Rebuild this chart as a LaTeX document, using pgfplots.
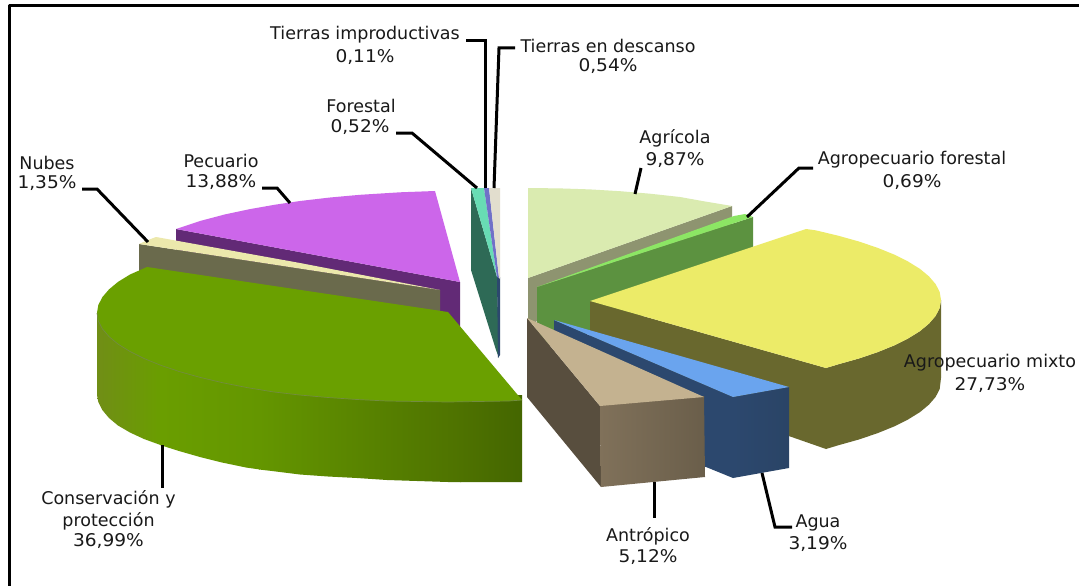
\documentclass[border=0pt]{standalone}
\usepackage{pgfplots}
\pgfplotsset{compat=1.18}
\usepackage{fontspec}
\setmainfont{DejaVu Sans}
\definecolor{agrT}{RGB}{218,235,176}
\definecolor{agrS}{RGB}{142,148,112}
\definecolor{forT}{RGB}{140,230,100}
\definecolor{forS}{RGB}{92,146,64}
\definecolor{mixT}{RGB}{236,235,104}
\definecolor{mixS}{RGB}{105,104,46}
\definecolor{aguT}{RGB}{106,164,238}
\definecolor{aguS}{RGB}{44,72,110}
\definecolor{aguR}{RGB}{42,68,102}
\definecolor{antT}{RGB}{196,178,144}
\definecolor{antD}{RGB}{88,78,62}
\definecolor{antL}{RGB}{128,113,90}
\definecolor{antR}{RGB}{106,94,74}
\definecolor{conT}{RGB}{106,160,0}
\definecolor{conA}{RGB}{112,142,22}
\definecolor{conB}{RGB}{106,158,0}
\definecolor{conC}{RGB}{100,150,0}
\definecolor{conD}{RGB}{78,114,0}
\definecolor{conE}{RGB}{68,102,0}
\definecolor{nubT}{RGB}{236,232,172}
\definecolor{nubS}{RGB}{106,106,76}
\definecolor{pecT}{RGB}{204,102,234}
\definecolor{pecS}{RGB}{98,42,118}
\definecolor{fstT}{RGB}{104,220,180}
\definecolor{fstS}{RGB}{46,106,86}
\definecolor{impT}{RGB}{112,112,200}
\definecolor{desT}{RGB}{226,222,206}
\newcommand{\lab}[3]{\node[font=\fontsize{17.5}{20}\selectfont,text=black!90,inner sep=0pt,anchor=center] at (axis cs:#1,#2) {#3};}
\newcommand{\nlab}[3]{\node[font=\fontsize{17.5}{20}\selectfont,text=black!90,inner sep=0pt,anchor=center] at (axis cs:#1,#2) {\scalebox{1.06}[1]{#3}};}
\begin{document}
\begin{tikzpicture}
\begin{axis}[
  width=1079pt,height=586pt,scale only axis,
  xmin=0,xmax=1079,ymin=0,ymax=586,y dir=reverse,
  hide axis,clip=true,
  every axis plot/.append style={no markers,line join=round},
  poly/.style={draw=none,fill=#1},
  leader/.style={draw=black,line width=3pt,line join=miter},
]
% page extent
\addplot[draw=none,fill=white] coordinates {(0,0) (1079,0) (1079,586) (0,586)} --cycle;
% frame
\addplot[draw=black,line width=3.2pt] coordinates {(9.6,586) (9.6,5.5) (1079,5.5)};
% Pecuario
\addplot[poly=pecS] coordinates {(176,229) (460,282) (460,327) (176,270)} --cycle;
\addplot[poly=pecT] coordinates {(176,229) (200,221) (225,214.4) (250,209.1) (275,204.7) (300,201) (330,197.5) (360,194.8) (400,192.3) (435,191) (460,282)} --cycle;
% Nubes
\addplot[poly=nubS] coordinates {(139,244) (440,290) (440,312) (139,272)} --cycle;
\addplot[poly=nubT] coordinates {(139,244) (148,240) (156,237) (300,263) (440,290)} --cycle;
% Conservacion side, in four shaded strips
\addplot[draw=none,left color=conA,right color=conB] coordinates {(97,313) (97,395) (98.3,402) (102.3,410) (109,418) (118,425.5) (130,432.5) (144,439) (160.5,445) (161,445) (161,340) (130,320)} --cycle;
\addplot[draw=none,left color=conB,right color=conC] coordinates {(160,340) (160,445) (179,451) (200,457) (222,462.5) (246,467.5) (260,469.5) (260,380)} --cycle;
\addplot[draw=none,left color=conC,right color=conD] coordinates {(259,380) (259,469.5) (272,471) (300,474.5) (328,476.5) (357,478) (387,480) (417,481) (448,482) (461,482) (461,395)} --cycle;
\addplot[draw=none,left color=conD,right color=conE] coordinates {(460,395) (460,482) (478,482) (509,482) (522,482) (522,395)} --cycle;
% Conservacion top
\addplot[draw=none,fill=conT] coordinates {(97,313) (98.3,305.1) (102.3,297.2) (109,289.4) (118,281.9) (130,274.5) (147,267) (448,312) (522,400) (509,401) (478,401.5) (448,402) (417,401.5) (387,401) (357,399.5) (328,397.5) (299.6,395) (272.5,391.8) (246.6,387.5) (222.4,382.7) (199.8,377.3) (179.1,371.5) (160.5,365.2) (144,358.5) (130,351.5) (118,344.1) (109,336.6) (102.3,328.8) (98.3,320.9)} --cycle;
\addplot[draw=conE!75!white,line width=0.7pt] coordinates {(97,313) (98.3,320.9) (102.3,328.8) (109,336.6) (118,344.1) (130,351.5) (144,358.5) (160.5,365.2) (179.1,371.5) (199.8,377.3) (222.4,382.7) (246.6,387.5) (272.5,391.8) (299.6,395) (328,397.5) (357,399.5) (387,401) (417,401.5) (448,402) (478,401.5) (509,401) (522,400)};
% Forestal & tierras
\addplot[poly=fstS] coordinates {(471,188) (497,277) (499,358) (496,350) (471,270)} --cycle;
\addplot[poly=aguS] coordinates {(497,277) (500,277) (500,355) (498,358)} --cycle;
\addplot[poly=fstT] coordinates {(471,188) (484,188) (497,277)} --cycle;
\addplot[poly=impT] coordinates {(484,188) (489,188) (499,278) (497,277)} --cycle;
\addplot[poly=desT] coordinates {(489,188) (500,188) (500,279) (499,278)} --cycle;
% Agricola
\addplot[poly=agrS] coordinates {(528,278) (732,206) (732,240) (528,325)} --cycle;
\addplot[poly=agrT] coordinates {(528,188) (560,188.4) (590,189.4) (620,191.2) (650,193.7) (680,197) (705,201.5) (732,206) (528,278)} --cycle;
% Agropecuario forestal
\addplot[poly=forS] coordinates {(537,287) (753,217) (753,280) (537,350)} --cycle;
\addplot[poly=forT] coordinates {(537,287) (734,216) (745,214) (753,217)} --cycle;
% Agropecuario mixto
\addplot[poly=mixS] coordinates {(590,301) (826,368) (838.2,364.3) (858.9,358.5) (877.5,352.2) (894,345.5) (908,338.5) (920,331.1) (929,323.6) (935.7,315.8) (939.7,307.9) (941,300) (941,378) (939.7,388.9) (935.7,396.8) (929,404.6) (920,412.1) (908,419.5) (894,426.5) (877.5,433.2) (858.9,439.5) (838.2,445.3) (826,449) (700,405) (590,345)} --cycle;
\addplot[poly=mixT] coordinates {(590,301) (806,229) (815.6,230.3) (838.2,235.7) (858.9,241.5) (877.5,247.8) (894,254.5) (908,261.5) (920,268.9) (929,276.4) (935.7,284.2) (939.7,292.1) (941,300) (939.7,307.9) (935.7,315.8) (929,323.6) (920,331.1) (908,338.5) (894,345.5) (877.5,352.2) (858.9,358.5) (838.2,364.3) (826,368)} --cycle;
% Agua
\addplot[poly=aguS] coordinates {(554,320) (733,397) (733,478) (706,467) (700,465) (700,397) (554,331)} --cycle;
\addplot[draw=none,left color=aguS,right color=aguR] coordinates {(733,397) (789,387) (789,468) (733,478)} --cycle;
\addplot[poly=aguT] coordinates {(554,320) (789,387) (733,397)} --cycle;
% Antropico
\addplot[poly=antD] coordinates {(527,318) (600,406) (601,487) (527,397)} --cycle;
\addplot[draw=none,left color=antL,right color=antR] coordinates {(600,405) (704,396) (705,477) (601,487)} --cycle;
\addplot[poly=antT] coordinates {(527,318) (704,397) (600,406)} --cycle;
% leaders
\addplot[leader] coordinates {(466,41) (485,41) (485,188)};
\addplot[leader] coordinates {(515,48) (499,48) (494,188)};
\addplot[leader] coordinates {(396,133) (412,133) (477,188)};
\addplot[leader] coordinates {(82,189) (97,189) (148,242)};
\addplot[leader] coordinates {(262,188) (277,188) (290,203)};
\addplot[leader] coordinates {(641,168) (635,194)};
\addplot[leader] coordinates {(813,168) (799,168) (747,217)};
\addplot[leader] coordinates {(762,473) (775,527) (792,527)};
\addplot[leader] coordinates {(654,482) (654,518)};
\addplot[leader] coordinates {(162,445) (162,488)};
% labels
\lab{365}{35}{Tierras improductivas}
\nlab{365}{57}{0,11\%}
\lab{608}{46}{Tierras en descanso}
\nlab{608}{66}{0,54\%}
\lab{361}{106}{Forestal}
\nlab{360}{127}{0,52\%}
\lab{675}{138}{Agrícola}
\nlab{675}{160}{9,87\%}
\lab{912}{160}{Agropecuario forestal}
\nlab{912}{182}{0,69\%}
\lab{47}{163}{Nubes}
\nlab{47}{183}{1,35\%}
\lab{221}{161}{Pecuario}
\nlab{221}{182}{13,88\%}
\lab{990}{363}{Agropecuario mixto}
\nlab{990}{385}{27,73\%}
\lab{108.5}{499}{Conservación y}
\lab{108.5}{521}{protección}
\nlab{108.5}{541}{36,99\%}
\lab{648}{536}{Antrópico}
\nlab{648}{557}{5,12\%}
\lab{818}{523}{Agua}
\nlab{818}{544}{3,19\%}
\end{axis}
\end{tikzpicture}
\end{document}
